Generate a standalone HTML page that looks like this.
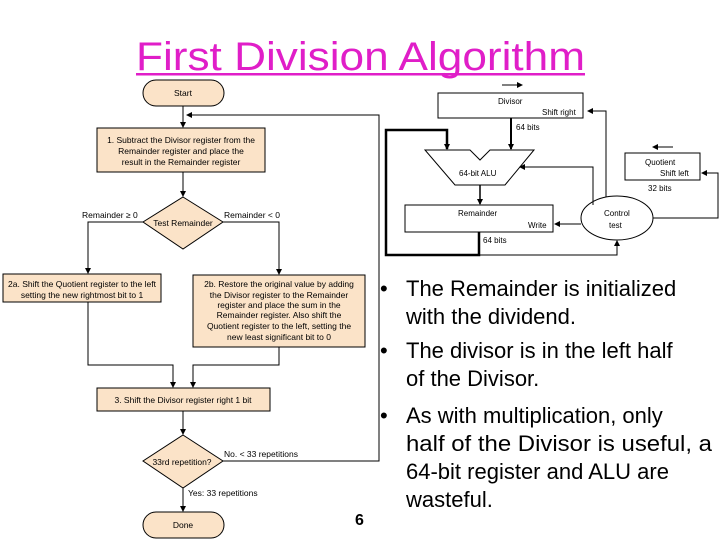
<!DOCTYPE html>
<html><head><meta charset="utf-8"><style>
html,body{margin:0;padding:0;background:#fff;}
svg{display:block;font-family:"Liberation Sans",Arial,sans-serif;}
</style></head><body>
<svg width="720" height="540" viewBox="0 0 720 540" xmlns="http://www.w3.org/2000/svg">
<defs>
<marker id="a" markerWidth="6" markerHeight="6" refX="5" refY="3" orient="auto" markerUnits="userSpaceOnUse"><path d="M0,0 L6,3 L0,6z" fill="#000"/></marker>
</defs>
<text x="136" y="70" font-size="40" fill="#e01ec8" textLength="449" lengthAdjust="spacingAndGlyphs">First Division Algorithm</text>
<rect x="136" y="73" width="449" height="2.5" fill="#e01ec8"/>
<g stroke="#000" stroke-width="1" fill="#fbe3c8">
<rect x="143" y="80" width="81" height="26" rx="13"/>
<rect x="97" y="128" width="168" height="44"/>
<polygon points="183,197 223,222 183,249 143,222"/>
<rect x="3" y="274" width="158" height="28"/>
<rect x="193" y="275" width="172" height="72"/>
<rect x="97" y="388" width="173" height="23"/>
<polygon points="183,435 223,461 183,488 143,461"/>
<rect x="143" y="512" width="81" height="26" rx="13"/>
</g>
<g stroke="#000" stroke-width="1" fill="none">
<path d="M183,106 V127" marker-end="url(#a)"/>
<path d="M183,172 V196" marker-end="url(#a)"/>
<path d="M143,222 H88 V273" marker-end="url(#a)"/>
<path d="M223,222 H279 V274" marker-end="url(#a)"/>
<path d="M88,302 V365 H173 V387" marker-end="url(#a)"/>
<path d="M279,347 V365 H193 V387" marker-end="url(#a)"/>
<path d="M183,411 V434" marker-end="url(#a)"/>
<path d="M183,488 V511" marker-end="url(#a)"/>
<path d="M223,461 H379 V115 H187" marker-end="url(#a)"/>
</g>
<g font-size="8.5" text-anchor="middle" fill="#000">
<text x="183" y="96">Start</text>
<text x="181" y="143">1. Subtract the Divisor register from the</text>
<text x="181" y="154">Remainder register and place the</text>
<text x="181" y="165">result in the Remainder register</text>
<text x="183" y="226">Test Remainder</text>
<text x="82" y="287">2a. Shift the Quotient register to the left</text>
<text x="82" y="298">setting the new rightmost bit to 1</text>
<text x="279" y="287">2b. Restore the original value by adding</text>
<text x="279" y="298">the Divisor register to the Remainder</text>
<text x="279" y="308">register and place the sum in the</text>
<text x="279" y="318">Remainder register. Also shift the</text>
<text x="279" y="329">Quotient register to the left, setting the</text>
<text x="279" y="340">new least significant bit to 0</text>
<text x="183" y="403">3. Shift the Divisor register right 1 bit</text>
<text x="182" y="465">33rd repetition?</text>
<text x="183" y="528">Done</text>
</g>
<g font-size="8.5" fill="#000">
<text x="82" y="218">Remainder ≥ 0</text>
<text x="224" y="218">Remainder &lt; 0</text>
<text x="224" y="457">No.  &lt; 33 repetitions</text>
<text x="188" y="496">Yes:  33 repetitions</text>
</g>
<text x="355" y="525" font-size="16" font-weight="bold">6</text>
<g stroke="#000" stroke-width="1" fill="#fff">
<rect x="438" y="93" width="145" height="25"/>
<polygon points="425,150 470,150 480,160 490,150 534,150 505,185 455,185"/>
<rect x="405" y="205" width="148" height="27"/>
<ellipse cx="617" cy="218" rx="36" ry="22"/>
<rect x="625" y="153" width="75" height="27"/>
</g>
<g stroke="#000" fill="none">
<path d="M479,232 V255 H386 V130 H447 V149" stroke-width="2.5" marker-end="url(#a)"/>
<path d="M511,118 V149" stroke-width="2" marker-end="url(#a)"/>
<path d="M480,185 V204" stroke-width="1.5" marker-end="url(#a)"/>
<path d="M479,255 H617 V241" marker-end="url(#a)"/>
<path d="M606,197 V111 H588" marker-end="url(#a)"/>
<path d="M593,205 V167 H520" marker-end="url(#a)"/>
<path d="M581,224 H555" marker-end="url(#a)"/>
<path d="M653,218 H718 V173 H702" marker-end="url(#a)"/>
<path d="M502,85 H522" marker-end="url(#a)"/>
<path d="M673,147 H653" marker-end="url(#a)"/>
</g>
<g font-size="8" fill="#000">
<text x="498" y="104">Divisor</text>
<text x="542" y="115">Shift right</text>
<text x="516" y="130">64 bits</text>
<text x="459" y="176">64-bit ALU</text>
<text x="458" y="216">Remainder</text>
<text x="528" y="228">Write</text>
<text x="483" y="243">64 bits</text>
<text x="604" y="216">Control</text>
<text x="609" y="228">test</text>
<text x="645" y="165">Quotient</text>
<text x="660" y="176">Shift left</text>
<text x="648" y="191">32 bits</text>
</g>
<g font-size="22" fill="#000">
<text x="380" y="296">•</text><text x="406" y="296">The Remainder is initialized</text>
<text x="406" y="324">with the dividend.</text>
<text x="380" y="358">•</text><text x="406" y="358">The divisor is in the left half</text>
<text x="406" y="386">of the Divisor.</text>
<text x="380" y="423">•</text><text x="406" y="423">As with multiplication, only</text>
<text x="406" y="451" textLength="306" lengthAdjust="spacingAndGlyphs">half of the Divisor is useful, a</text>
<text x="406" y="479">64-bit register and ALU are</text>
<text x="406" y="507">wasteful.</text>
</g>
</svg>
</body></html>
